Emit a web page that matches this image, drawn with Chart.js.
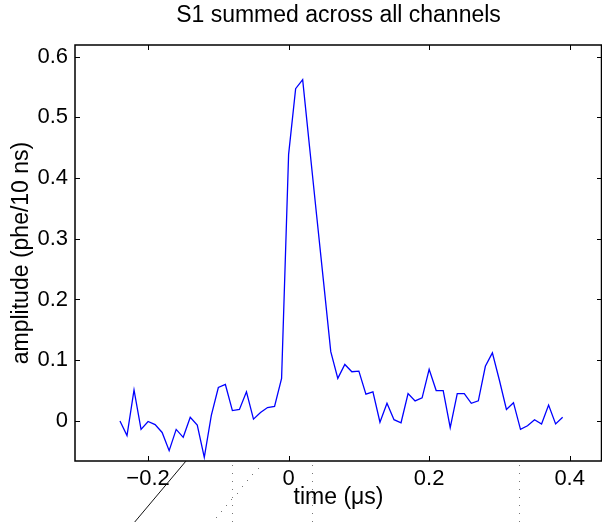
<!DOCTYPE html>
<html>
<head>
<meta charset="utf-8">
<script src="https://cdn.jsdelivr.net/npm/chart.js@4.4.0/dist/chart.umd.min.js"></script>
<style>
  html, body { margin: 0; padding: 0; background: #fff; }
  canvas { display: block; }
</style>
</head>
<body>
<canvas id="s1" width="602" height="522"></canvas>
<script>
  // time in microseconds (10 ns bins)
  const times = [
    -0.24, -0.23, -0.22, -0.21, -0.20, -0.19, -0.18, -0.17, -0.16, -0.15,
    -0.14, -0.13, -0.12, -0.11, -0.10, -0.09, -0.08, -0.07, -0.06, -0.05,
    -0.04, -0.03, -0.02, -0.01, 0.00, 0.01, 0.02, 0.03, 0.04, 0.05,
    0.06, 0.07, 0.08, 0.09, 0.10, 0.11, 0.12, 0.13, 0.14, 0.15,
    0.16, 0.17, 0.18, 0.19, 0.20, 0.21, 0.22, 0.23, 0.24, 0.25,
    0.26, 0.27, 0.28, 0.29, 0.30, 0.31, 0.32, 0.33, 0.34, 0.35,
    0.36, 0.37, 0.38, 0.39
  ];
  // amplitude, phe per 10 ns
  const amplitude = [
    0.000, -0.024, 0.051, -0.014, -0.001, -0.006, -0.019, -0.049, -0.014, -0.027,
    0.006, -0.007, -0.060, 0.009, 0.055, 0.060, 0.017, 0.019, 0.048, 0.003,
    0.014, 0.022, 0.024, 0.070, 0.439, 0.547, 0.562, 0.449, 0.337, 0.226,
    0.114, 0.070, 0.093, 0.081, 0.082, 0.044, 0.048, -0.002, 0.029, 0.002,
    -0.003, 0.045, 0.033, 0.038, 0.085, 0.050, 0.050, -0.011, 0.045, 0.045,
    0.029, 0.033, 0.090, 0.112, 0.067, 0.019, 0.030, -0.014, -0.008, 0.002,
    -0.005, 0.026, -0.005, 0.006
  ];
  const xTicks = [-0.2, 0, 0.2, 0.4];
  const yTicks = [0, 0.1, 0.2, 0.3, 0.4, 0.5, 0.6];

  const FONT = '"Liberation Sans", Arial, Helvetica, sans-serif';

  function fmt(v) {
    if (Math.abs(v) < 1e-9) return '0';
    const s = (Math.round(Math.abs(v) * 10) / 10).toString();
    return (v < 0 ? '\u2212' : '') + s;
  }

  // MATLAB style box with inward ticks, plus the stray scan marks under the axis
  const framePlugin = {
    id: 'frame',
    afterDraw(chart) {
      const { ctx, chartArea: a, scales: { x, y } } = chart;
      ctx.save();
      ctx.strokeStyle = '#000';
      ctx.lineWidth = 1.5;
      ctx.strokeRect(a.left, a.top, a.right - a.left - 0.5, a.bottom - a.top);
      ctx.lineWidth = 1;
      const tl = 5;
      ctx.beginPath();
      xTicks.forEach(v => {
        const px = Math.round(x.getPixelForValue(v)) + 0.5;
        ctx.moveTo(px, a.bottom); ctx.lineTo(px, a.bottom - tl);
        ctx.moveTo(px, a.top); ctx.lineTo(px, a.top + tl);
      });
      yTicks.forEach(v => {
        const py = Math.round(y.getPixelForValue(v)) + 0.5;
        ctx.moveTo(a.left, py); ctx.lineTo(a.left + tl, py);
        ctx.moveTo(a.right, py); ctx.lineTo(a.right - tl, py);
      });
      ctx.stroke();

      // scan artefacts below the axes
      const H = chart.height;
      ctx.strokeStyle = '#111';
      ctx.lineWidth = 1;
      ctx.beginPath();
      ctx.moveTo(x.getPixelForValue(-0.146), a.bottom);
      ctx.lineTo(x.getPixelForValue(-0.219), H);
      ctx.stroke();
      ctx.fillStyle = '#777';
      [-0.08, 0.033, 0.328].forEach(v => {
        const px = Math.round(x.getPixelForValue(v));
        for (let yy = a.bottom + 4; yy < H; yy += 8) ctx.fillRect(px, yy, 1, 1);
      });
      const x0 = x.getPixelForValue(-0.044), x1 = x.getPixelForValue(-0.104);
      for (let i = 0; i <= 8; i++) {
        const t = i / 8;
        ctx.fillRect(Math.round(x0 + (x1 - x0) * t), Math.round(468 + 49 * t), 1, 1);
      }
      ctx.restore();
    }
  };

  new Chart(document.getElementById('s1'), {
    type: 'line',
    data: {
      datasets: [{
        data: times.map((t, i) => ({ x: t, y: amplitude[i] })),
        borderColor: '#0000ff',
        borderWidth: 1.3,
        pointRadius: 0,
        tension: 0,
        fill: false
      }]
    },
    options: {
      responsive: false,
      devicePixelRatio: 1,
      animation: false,
      layout: { padding: 0 },
      plugins: {
        legend: { display: false },
        tooltip: { enabled: false },
        title: {
          display: true,
          fullSize: false,
          text: 'S1 summed across all channels',
          color: '#000',
          font: { family: FONT, size: 23, weight: 'normal' },
          padding: { top: 2, bottom: 15.4 }
        }
      },
      scales: {
        x: {
          type: 'linear',
          min: -0.304,
          max: 0.446,
          afterBuildTicks: s => { s.ticks = xTicks.map(v => ({ value: v })); },
          afterFit: s => {
            s.height = 61;
            s.paddingLeft = 0; s.paddingRight = 0;
          },
          grid: { display: false, drawTicks: false },
          border: { display: false },
          ticks: {
            color: '#000',
            padding: 5,
            maxRotation: 0,
            autoSkip: false,
            font: { family: FONT, size: 22 },
            callback: v => fmt(v)
          },
          title: {
            display: true,
            text: 'time (\u03bcs)',
            color: '#000',
            font: { family: FONT, size: 23 },
            padding: { top: 0, bottom: 11 }
          }
        },
        y: {
          min: -0.066,
          max: 0.619,
          afterBuildTicks: s => { s.ticks = yTicks.map(v => ({ value: v })); },
          afterFit: s => {
            s.width = 75;
            s.paddingTop = 0; s.paddingBottom = 0;
          },
          grid: { display: false, drawTicks: false },
          border: { display: false },
          ticks: {
            color: '#000',
            padding: 7,
            autoSkip: false,
            font: { family: FONT, size: 22 },
            callback: v => fmt(v)
          },
          title: {
            display: true,
            text: 'amplitude (phe/10 ns)',
            color: '#000',
            font: { family: FONT, size: 23 },
            padding: { top: 8, bottom: 0 }
          }
        }
      }
    },
    plugins: [framePlugin]
  });
</script>
</body>
</html>
